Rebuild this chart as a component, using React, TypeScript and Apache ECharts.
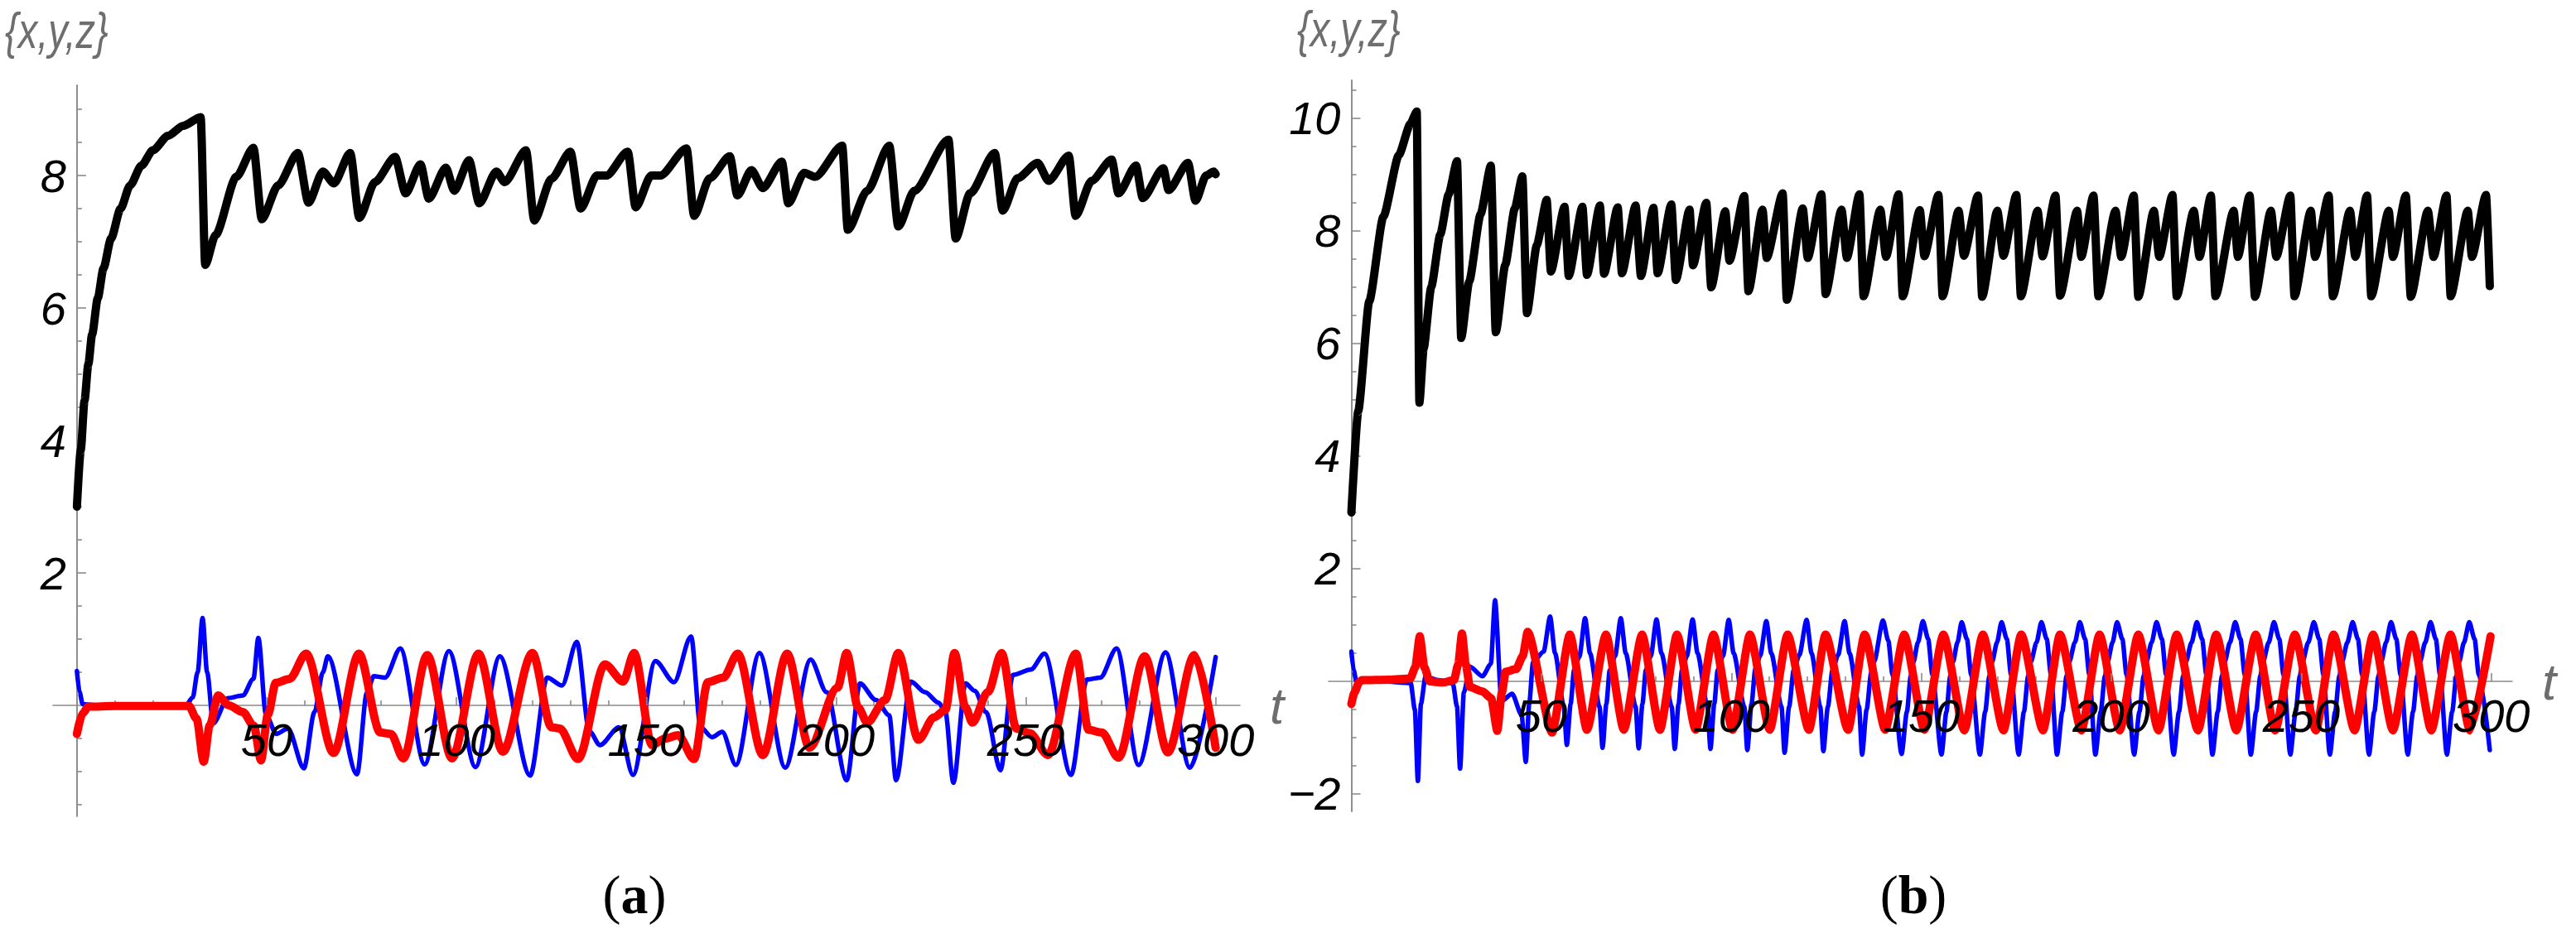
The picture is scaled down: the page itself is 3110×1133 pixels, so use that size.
import React, { useEffect, useRef } from "react";
import * as echarts from "echarts";

// ---------- tick values ----------
const X_LABELS = [50, 100, 150, 200, 250, 300];
const X_MINOR = [10, 20, 30, 40, 60, 70, 80, 90, 110, 120, 130, 140, 160, 170, 180, 190, 210, 220, 230, 240, 260, 270, 280, 290];
const YA_LABELS = [2, 4, 6, 8];
const YA_MINOR = [-1.5, -1, -0.5, 0.5, 1, 1.5, 2.5, 3, 3.5, 4.5, 5, 5.5, 6.5, 7, 7.5, 8.5, 9];
const YB_LABELS = [-2, 2, 4, 6, 8, 10];
const YB_MINOR = [-1.5, -1, -0.5, 0.5, 1, 1.5, 2.5, 3, 3.5, 4.5, 5, 5.5, 6.5, 7, 7.5, 8.5, 9, 9.5, 10.5];
const AXIS_NAME_Y = "{x,y,z}";
const AXIS_NAME_X = "t";
const PANEL_TAGS = ["a", "b"];

// ---------- panel (a) ----------
const blackA: [number, number][] = [
  [0, 3.0], [1, 3.85], [2, 4.6], [3, 5.15], [4, 5.6], [5.5, 6.15], [7, 6.6], [9, 7.05], [11.5, 7.5], [14, 7.85],
  [17, 8.15], [20, 8.38], [24, 8.6], [28, 8.75], [32.6, 8.88], [33.8, 6.65], [36.5, 7.1], [42, 7.98], [46.5, 8.42],
  [48.7, 7.34], [53, 7.85], [58.2, 8.34], [61, 7.59], [64.8, 8.06], [67.7, 7.88], [72, 8.34], [74.4, 7.36], [78.5, 7.9],
  [83.8, 8.28], [86.6, 7.73], [90.5, 8.17], [92.7, 7.65], [97.2, 8.12], [99.4, 7.77], [103.3, 8.23], [106, 7.58],
  [110.5, 8.06], [112.7, 7.9], [118.3, 8.38], [120.5, 7.32], [125, 7.95], [130, 8.36], [132.7, 7.5], [137, 8.0],
  [139.5, 8.0], [145.1, 8.36], [147.2, 7.52], [151.3, 8.0], [153.7, 8.0], [160.6, 8.41], [162.6, 7.39], [166.7, 7.96],
  [172, 8.29], [174, 7.7], [177.7, 8.08], [180.7, 7.81], [185.7, 8.21], [187.4, 7.58], [191.6, 8.04], [194.5, 7.98],
  [201.6, 8.45], [203.1, 7.18], [208.2, 7.77], [214, 8.45], [216.4, 7.23], [220.6, 7.77], [229.6, 8.54], [231.5, 7.05],
  [235.3, 7.73], [241.8, 8.34], [243.9, 7.47], [247.8, 7.96], [253.1, 8.19], [256, 7.92], [261.3, 8.3], [263.1, 7.39],
  [267.3, 7.92], [272.6, 8.24], [274.4, 7.73], [279, 8.15], [280.8, 7.66], [286.2, 8.11], [287.6, 7.78], [292.7, 8.19],
  [294.7, 7.62], [297.5, 8.0], [299.5, 8.06], [300, 8.02],
];
const blueA: [number, number][] = [
  [0, 0.52], [0.7, 0.2], [1.5, 0.02], [5, 0], [28.7, 0], [30.5, 0.12], [31.8, 0.5], [33.1, 1.32], [34.3, 0.5],
  [35.9, -0.27], [39.8, 0.11], [43.7, 0.15], [46.5, 0.4], [47.8, 1.02], [49.8, -0.14], [52.5, -0.43], [55.6, -0.35],
  [59.8, -0.95], [62.6, -0.1], [64.8, 0.5], [66.1, 0.74], [73.8, -1.04], [76.4, 0.19], [78.2, 0.44], [81.2, 0.42],
  [85.2, 0.86], [91.6, -0.89], [98, 0.82], [105, -0.93], [111.4, 0.74], [119.4, -1.06], [123.9, 0.42], [127.8, 0.3],
  [131.7, 0.96], [135, -0.39], [137.8, -0.6], [142.8, -0.33], [146.5, -1.05], [152.4, 0.67], [157.3, 0.35],
  [161.8, 1.04], [164.3, -0.33], [167.3, -0.48], [170, -0.4], [173.6, -0.9], [179.8, 0.79], [186.6, -0.94],
  [193.3, 0.69], [197.5, 0.2], [202.8, -1.13], [206.3, 0.33], [210.5, 0.08], [214, -0.15], [215.8, -1.13],
  [219.7, 0.36], [223.4, 0.2], [227, 0.04], [228.8, -0.1], [230.9, -1.17], [234.1, 0.33], [236.5, 0.22],
  [239.5, -0.1], [243.3, -0.98], [246.6, 0.46], [251.3, 0.54], [254.9, 0.78], [261.9, -1.05], [266.1, 0.39],
  [269.6, 0.42], [273.9, 0.86], [279.7, -0.9], [286.8, 0.8], [293.2, -0.94], [300, 0.73],
];
const redA: [number, number][] = [
  [0, -0.43], [1.5, -0.12], [3, -0.02], [10, -0.01], [29.5, -0.01], [31.5, -0.2], [33.4, -0.85], [35, -0.3],
  [37.2, 0.15], [40, 0.0], [43.7, -0.1], [46.6, -0.31], [48.5, -0.83], [50.3, -0.14], [52.4, 0.34], [56, 0.4],
  [60.4, 0.78], [67.6, -0.72], [74.3, 0.78], [79.9, -0.41], [82.7, -0.43], [86, -0.8], [92.3, 0.76], [98.8, -0.8],
  [105.8, 0.78], [112.2, -0.7], [120, 0.79], [125, -0.33], [127.2, -0.35], [132, -0.81], [139.1, 0.62],
  [143.9, 0.36], [146.8, 0.79], [151.5, -0.6], [155, -0.5], [158.4, -0.45], [162.6, -0.81], [166.2, 0.35],
  [170.3, 0.42], [174.1, 0.78], [180.7, -0.75], [187.1, 0.78], [193, -0.64], [200.4, 0.27], [202.8, 0.79],
  [205.8, -0.03], [208.2, -0.26], [212.9, 0.08], [216.4, 0.79], [221.7, -0.52], [225.8, -0.18], [228.8, -0.07],
  [231.2, 0.79], [234.1, -0.03], [235.9, -0.26], [240, 0.2], [243.6, 0.79], [247.5, -0.35], [251, -0.42],
  [255.8, -0.75], [263.2, 0.78], [266.5, -0.37], [270, -0.41], [274.4, -0.79], [281.3, 0.74], [287.4, -0.71],
  [294.4, 0.76], [300, -0.64],
];

// ---------- panel (b) ----------
const blackB: [number, number][] = [
  [0, 3.0], [1.8, 4.8], [4.7, 6.75], [8.4, 8.25], [12.5, 9.35], [15.5, 9.9], [17.2, 10.12], [17.9, 4.95], [19, 5.9],
  [21, 7.0], [23.4, 7.94], [25.6, 8.65], [27.8, 9.24], [28.9, 6.1], [31, 7.1], [34, 8.3], [36.7, 9.16], [38, 6.2],
  [40.5, 7.4], [43, 8.4], [45, 8.97], [46.2, 6.54], [48.8, 7.75], [51.4, 8.55], [52.5, 7.28], [56.1, 8.43],
  [57.2, 7.2], [60.8, 8.43], [62, 7.22], [65.4, 8.45], [66.5, 7.24], [70.1, 8.42], [71.2, 7.25], [74.8, 8.45],
  [76.2, 7.2], [79.5, 8.41], [80.6, 7.25], [84.2, 8.47], [85.4, 7.13], [89, 8.38], [89.9, 7.39], [93.4, 8.5],
  [94.7, 7.0], [98.4, 8.35], [99.5, 7.47], [103.4, 8.62], [104.5, 6.93], [108.2, 8.38], [109.3, 7.52],
  [113.5, 8.67], [114.6, 6.78], [118.8, 8.4], [120.1, 7.52], [123.7, 8.65], [124.8, 6.88], [129, 8.38],
  [130.4, 7.52], [133.7, 8.65], [134.8, 6.84], [139.2, 8.38], [140.7, 7.54], [144, 8.65], [145.1, 6.84],
  [149.6, 8.37], [150.8, 7.55], [154.5, 8.64], [155.6, 6.84], [159.8, 8.36], [161.2, 7.56], [164.9, 8.63],
  [166, 6.83], [170, 8.36], [171.6, 7.56], [175, 8.64], [176.2, 6.84], [180.6, 8.36], [181.9, 7.55], [185.3, 8.63],
  [186.5, 6.85], [191, 8.36], [192.1, 7.54], [195.3, 8.63], [196.6, 6.84], [201.1, 8.36], [202.6, 7.54],
  [205.9, 8.63], [207.1, 6.83], [211.2, 8.36], [212.6, 7.54], [216.1, 8.64], [217.2, 6.84], [221.7, 8.36],
  [223.2, 7.54], [226.2, 8.63], [227.4, 6.84], [232.2, 8.36], [233.3, 7.54], [236.4, 8.63], [237.8, 6.83],
  [242, 8.36], [243.4, 7.54], [247.1, 8.63], [248.2, 6.84], [252.5, 8.36], [253.6, 7.54], [257.2, 8.63],
  [258.3, 6.84], [262.8, 8.36], [264.2, 7.54], [267.3, 8.63], [268.4, 6.84], [273, 8.36], [274.1, 7.54],
  [277.5, 8.63], [278.8, 6.83], [283.3, 8.36], [284.8, 7.54], [288.2, 8.63], [289.3, 6.84], [293.8, 8.36],
  [294.9, 7.54], [298.6, 8.64], [299.6, 7.02],
];
const blueB: [number, number][] = [
  [0, 0.53], [0.6, 0.2], [1.3, 0.0], [8, 0.0], [15.6, -0.03], [16.7, -0.5], [17.5, -1.77], [18.3, -0.4], [19.5, 0.08],
  [23, 0.02], [26.7, -0.04], [27.8, -0.45], [28.6, -1.55], [29.6, -0.2], [31.2, 0.26], [34.5, 0.09], [36.7, 0.31],
  [37.8, 1.44], [39.5, -0.35], [42.3, -0.22], [44.8, -0.6], [45.9, -1.43], [46.8, -0.4], [47.8, 0.34], [50.6, 0.53],
  [52.3, 1.15], [53.6, 0.5], [55.9, -0.45], [56.7, -1.13], [57.7, -0.4], [58.6, 0.2], [60, 0.44], [61.5, 1.12],
  [62.8, 0.5], [65.3, -0.45], [66.1, -1.18], [67.1, -0.4], [68, 0.2], [69.4, 0.45], [70.9, 1.12],
  [72.2, 0.5], [74.8, -0.45], [75.6, -1.19], [76.6, -0.4], [77.5, 0.2], [78.8, 0.45], [80.3, 1.1],
  [81.6, 0.5], [84.3, -0.45], [85.1, -1.2], [86.1, -0.4], [87, 0.2], [88.3, 0.45], [89.8, 1.1],
  [91.1, 0.5], [93.7, -0.45], [94.5, -1.2], [95.5, -0.4], [96.4, 0.2], [97.8, 0.45], [99.3, 1.09],
  [100.6, 0.5], [103.4, -0.45], [104.2, -1.22], [105.3, -0.4], [106.3, 0.22], [107.6, 0.46], [109.2, 1.07],
  [110.5, 0.5], [113.2, -0.45], [114, -1.27], [115.2, -0.45], [116.4, 0.2], [117.9, 0.47], [119.8, 1.09],
  [121.1, 0.5], [123.4, -0.45], [124.2, -1.24], [125.4, -0.45], [126.6, 0.2], [128.1, 0.47], [129.8, 1.07],
  [131.1, 0.5], [133.6, -0.45], [134.4, -1.3], [135.6, -0.5], [136.8, 0.15], [137.6, 0.36], [139.9, 1.08],
  [141.3, 0.72], [142.4, 0.12], [144.8, -1.29], [146.2, -0.54], [147.2, 0.09], [147.9, 0.34], [149.1, 0.69],
  [150.4, 1.07], [151.8, 0.75], [152.9, 0.12], [155.3, -1.3], [156.6, -0.54], [157.6, 0.09], [158.3, 0.34],
  [159.5, 0.69], [160.6, 1.05], [162, 0.75], [163.1, 0.12], [165.4, -1.3], [166.8, -0.54], [167.9, 0.09],
  [168.6, 0.34], [169.9, 0.69], [171.1, 1.05], [172.5, 0.75], [173.6, 0.12], [175.6, -1.3], [177, -0.54],
  [178.1, 0.09], [178.8, 0.34], [180.3, 0.69], [181.6, 1.05], [183, 0.75], [184.1, 0.12], [185.7, -1.3],
  [187.1, -0.54], [188.2, 0.09], [188.9, 0.34], [190.4, 0.69], [191.7, 1.05], [193.1, 0.75], [194.2, 0.12],
  [195.8, -1.3], [197.2, -0.54], [198.3, 0.09], [199, 0.34], [200.3, 0.69], [201.5, 1.05], [202.9, 0.75],
  [204, 0.12], [206, -1.3], [207.4, -0.54], [208.5, 0.09], [209.2, 0.34], [210.6, 0.69], [211.9, 1.05],
  [213.3, 0.75], [214.4, 0.12], [216.4, -1.3], [217.8, -0.54], [218.9, 0.09], [219.6, 0.34], [221.1, 0.69],
  [222.5, 1.05], [223.9, 0.75], [225, 0.12], [226.6, -1.3], [228, -0.54], [229.1, 0.09], [229.8, 0.34],
  [231.2, 0.69], [232.6, 1.05], [234, 0.75], [235.1, 0.12], [236.7, -1.3], [238.1, -0.54], [239.2, 0.09],
  [239.9, 0.34], [241.4, 0.69], [242.8, 1.05], [244.2, 0.75], [245.3, 0.12], [247.1, -1.3], [248.5, -0.54],
  [249.6, 0.09], [250.3, 0.34], [251.8, 0.69], [253.3, 1.05], [254.7, 0.75], [255.8, 0.12], [257.5, -1.3],
  [258.9, -0.54], [260, 0.09], [260.7, 0.34], [262.1, 0.69], [263.5, 1.05], [264.9, 0.75], [266, 0.12],
  [267.8, -1.3], [269.2, -0.54], [270.3, 0.09], [271, 0.34], [272.3, 0.69], [273.6, 1.05], [275, 0.75],
  [276.1, 0.12], [278, -1.3], [279.4, -0.54], [280.5, 0.09], [281.2, 0.34], [282.6, 0.69], [284, 1.05],
  [285.4, 0.75], [286.5, 0.12], [288.3, -1.3], [289.7, -0.54], [290.8, 0.09], [291.5, 0.34], [292.8, 0.69],
  [294.2, 1.05], [295.6, 0.75], [296.7, 0.12], [299.6, -1.22],
];
const redB: [number, number][] = [
  [0, -0.4], [0.8, -0.2], [2, -0.02], [2.7, 0.02], [10, 0.03], [15.5, 0.05], [16.8, 0.25], [18, 0.8], [19.2, 0.25],
  [20.6, 0.0], [24, -0.02], [27, 0.02], [28.1, 0.3], [29.1, 0.85], [30.1, 0.3], [31.2, -0.1], [34.5, -0.18],
  [36.8, -0.3], [38.4, -0.88], [39.6, -0.2], [40.6, 0.17], [43.4, 0.22], [45.1, 0.45], [46.4, 0.88], [52.8, -0.91],
  [57.5, 0.83], [62, -0.86], [67, 0.83], [71.7, -0.86], [76.5, 0.83], [81.2, -0.86], [85.7, 0.83], [90.6, -0.86],
  [95.3, 0.83], [100.3, -0.86], [104.9, 0.83], [110.1, -0.86], [114.8, 0.83], [120.4, -0.86], [124.8, 0.83],
  [130.7, -0.86], [135.1, 0.83], [140.5, -0.86], [145.5, 0.83], [150.8, -0.86], [155.8, 0.83], [161.3, -0.87],
  [166.2, 0.83], [171.6, -0.87], [176.3, 0.83], [182, -0.87], [186.5, 0.83], [192.1, -0.87], [196.9, 0.83],
  [202.2, -0.87], [207.1, 0.83], [212.4, -0.87], [217.2, 0.83], [222.8, -0.87], [227.6, 0.83], [232.9, -0.87],
  [238, 0.83], [243.1, -0.87], [248.3, 0.83], [253.8, -0.87], [258.5, 0.83], [264, -0.87], [268.9, 0.83],
  [274.1, -0.87], [279.1, 0.83], [284.2, -0.87], [289.25, 0.83], [294.4, -0.87], [299.8, 0.8],
];

const AX = "#8a8a8a";
const NAME_C = "#6e6e6e";
const FONT = "Liberation Sans";
const SERIF = "Liberation Serif";
const TICK_FONT = 56;

const fmt = (v: number) => (v < 0 ? "\u2212" + Math.abs(v) : String(v));

function makeX(grid: number, min: number, max: number, offset: number) {
  const common = {
    type: "value", gridIndex: grid, min, max, position: "bottom", offset,
    splitLine: { show: false },
  };
  return [
    {
      // major ticks + labels, drawn above the curves
      ...common,
      z: 10,
      axisLine: { show: false, onZero: false },
      axisTick: { show: true, inside: true, length: 10, customValues: X_LABELS, lineStyle: { color: AX, width: 1.6 } },
      axisLabel: { show: true, customValues: X_LABELS, margin: 13, color: "#000", fontSize: TICK_FONT, fontStyle: "italic", fontFamily: FONT, formatter: fmt },
      name: AXIS_NAME_X, nameLocation: "end", nameGap: 36,
      nameTextStyle: { color: NAME_C, fontSize: 62, fontStyle: "italic", fontFamily: FONT },
    },
    {
      // axis line + minor ticks, under the curves
      ...common,
      axisLine: { show: true, onZero: false, lineStyle: { color: AX, width: 1.6 } },
      axisTick: { show: true, inside: true, length: 6, customValues: X_MINOR, lineStyle: { color: AX, width: 1.6 } },
      axisLabel: { show: false },
    },
  ];
}

function makeY(grid: number, min: number, max: number, offset: number, labels: number[], minor: number[]) {
  const common = {
    type: "value", gridIndex: grid, min, max, position: "left", offset,
    axisLine: { show: true, onZero: false, lineStyle: { color: AX, width: 1.6 } },
    splitLine: { show: false },
  };
  return [
    {
      ...common,
      axisTick: { show: true, inside: true, length: 11, customValues: labels, lineStyle: { color: AX, width: 1.6 } },
      axisLabel: { show: true, customValues: labels, margin: 13, color: "#000", fontSize: TICK_FONT, fontStyle: "italic", fontFamily: FONT, formatter: fmt },
    },
    {
      ...common,
      axisTick: { show: true, inside: true, length: 6, customValues: minor, lineStyle: { color: AX, width: 1.6 } },
      axisLabel: { show: false },
    },
  ];
}

function line(data: [number, number][], xi: number, yi: number, color: string, width: number, smooth: number, z: number) {
  return {
    type: "line", xAxisIndex: xi, yAxisIndex: yi, data, symbol: "none", showSymbol: false,
    smooth, smoothMonotone: "x", silent: true, z,
    emphasis: { disabled: true },
    lineStyle: { color, width, cap: "round", join: "round" },
  };
}

function nameText(x: number, y: number) {
  return {
    type: "text", x, y, scaleX: 0.76, silent: true,
    style: {
      text: AXIS_NAME_Y, fill: NAME_C, fontSize: 62, fontStyle: "italic", fontFamily: FONT,
      align: "left", verticalAlign: "middle",
    },
  };
}

function tagText(x: number, tag: string) {
  return {
    type: "text", x, y: 1080, silent: true,
    style: {
      text: "{p|(}{b|" + tag + "}{p|)}", align: "center", verticalAlign: "middle", fill: "#000",
      rich: {
        p: { fontFamily: SERIF, fontSize: 66, fill: "#000" },
        b: { fontFamily: SERIF, fontSize: 66, fontWeight: "bold", fill: "#000" },
      },
    },
  };
}

export default function App() {
  const ref = useRef<HTMLDivElement>(null);
  useEffect(() => {
    if (!ref.current) return;
    const chart = echarts.init(ref.current, null, { renderer: "svg" });
    const option: any = {
      animation: false,
      backgroundColor: "#ffffff",
      grid: [
        { left: 64, top: 103, width: 1433, height: 883 },
        { left: 1604, top: 97, width: 1429, height: 883 },
      ],
      xAxis: [...makeX(0, -6.3, 306.4, -134), ...makeX(1, -6.0, 305.5, -157)],
      yAxis: [
        ...makeY(0, -1.675, 9.3625, -28.9, YA_LABELS, YA_MINOR),
        ...makeY(1, -2.309, 10.676, -27.5, YB_LABELS, YB_MINOR),
      ],
      series: [
        line(blueA, 0, 0, "#0000ff", 5.5, 0.3, 2),
        line(redA, 0, 0, "#ff0000", 10, 0.3, 3),
        line(blackA, 0, 0, "#000000", 10, 0.25, 4),
        line(blueB, 2, 2, "#0000ff", 5.5, 0.25, 2),
        line(redB, 2, 2, "#ff0000", 10, 0.2, 3),
        line(blackB, 2, 2, "#000000", 10, 0.2, 4),
      ],
      graphic: [
        nameText(6, 37),
        nameText(1566, 35),
        tagText(766, PANEL_TAGS[0]),
        tagText(2310, PANEL_TAGS[1]),
      ],
    };
    chart.setOption(option);
    return () => chart.dispose();
  }, []);
  return (
    <div
      ref={ref}
      style={{ position: "absolute", left: 0, top: 0, width: 3110, height: 1133, background: "#fff" }}
    />
  );
}
